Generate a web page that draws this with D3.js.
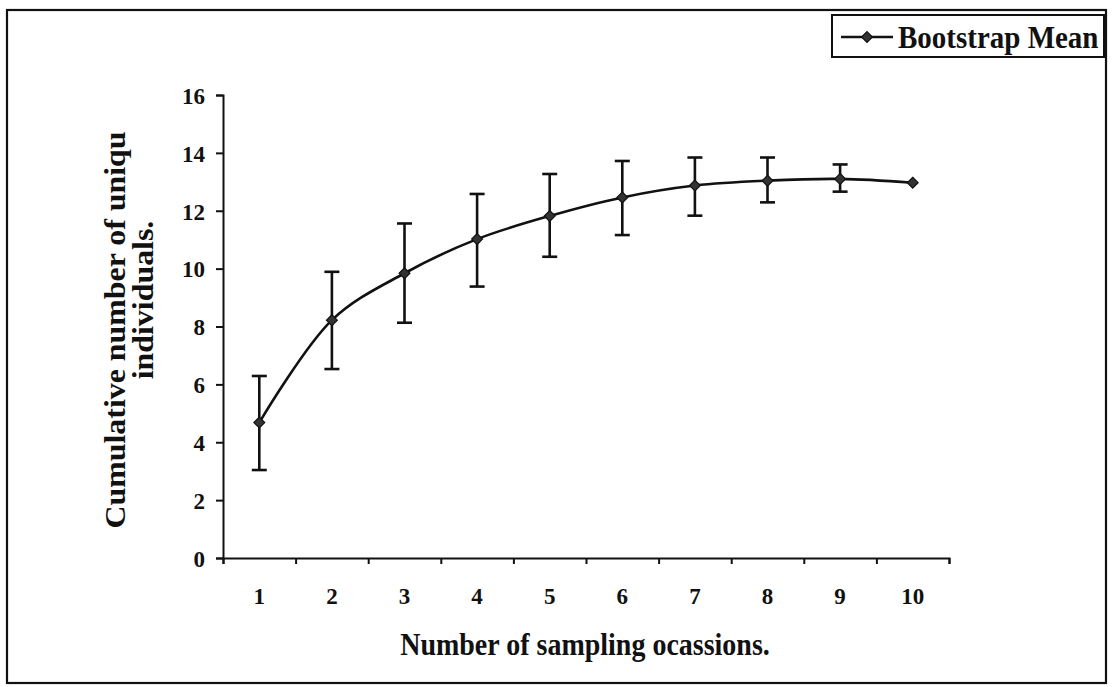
<!DOCTYPE html>
<html><head><meta charset="utf-8">
<script src="https://cdn.jsdelivr.net/npm/d3@7"></script>
<style>
body{margin:0;background:#fff;}
text{font-family:"Liberation Serif","Times New Roman",serif;font-weight:bold;fill:#111;}
</style></head>
<body><svg id="c" width="1113" height="687"></svg>
<script>
const categories = ["1","2","3","4","5","6","7","8","9","10"];
const meanValues = [4.68, 8.22, 9.84, 11.02, 11.82, 12.46, 12.87, 13.04, 13.10, 12.97];
const upperValues = [6.29, 9.89, 11.56, 12.58, 13.27, 13.72, 13.84, 13.84, 13.60, null];
const lowerValues = [3.04, 6.53, 8.13, 9.38, 10.41, 11.16, 11.83, 12.29, 12.66, null];
const yTicks = [0, 2, 4, 6, 8, 10, 12, 14, 16];
const seriesName = "Bootstrap Mean";
const xTitle = "Number of sampling ocassions.";
const yTitleLines = ["Cumulative number of uniqu", "individuals."];

const svg = d3.select("#c");
const L = 223, R = 949, T = 95, B = 558;

// outer frame
svg.append("rect").attr("x", 7).attr("y", 10).attr("width", 1099).attr("height", 673)
  .attr("fill", "none").attr("stroke", "#111").attr("stroke-width", 2.2);

const x = d3.scaleBand().domain(categories).range([L, R]).padding(0);
const xb = d3.scaleLinear().domain([0, categories.length]).range([L, R]);
const y = d3.scaleLinear().domain([0, 16]).range([B, T]);
const cx = c => x(c) + x.bandwidth() / 2;

// y axis
const yAx = svg.append("g").attr("transform", `translate(${L},0)`)
  .call(d3.axisLeft(y).tickValues(yTicks).tickSize(7).tickPadding(11).tickFormat(d3.format("d")));
yAx.select(".domain").attr("stroke", "#111").attr("stroke-width", 2);
yAx.selectAll(".tick line").attr("stroke", "#111").attr("stroke-width", 2);
yAx.selectAll(".tick text").style("font-size", "23px").attr("fill", "#111")
  .attr("dy", "0.36em");

// x axis (boundary ticks)
const xAx = svg.append("g").attr("transform", `translate(0,${B})`)
  .call(d3.axisBottom(xb).tickValues(d3.range(0, categories.length + 1)).tickSize(6).tickFormat(""));
xAx.select(".domain").attr("stroke", "#111").attr("stroke-width", 2);
xAx.selectAll(".tick line").attr("stroke", "#111").attr("stroke-width", 2);
// category labels
const xLab = svg.append("g").attr("transform", `translate(0,${B})`)
  .call(d3.axisBottom(x).tickSize(0).tickPadding(30));
xLab.select(".domain").remove();
xLab.selectAll(".tick text").style("font-size", "23px").attr("fill", "#111");

// error bars
const eb = categories.map((c, i) => ({c, hi: upperValues[i], lo: lowerValues[i]})).filter(d => d.hi != null);
const g = svg.append("g");
g.selectAll("line.eb").data(eb).join("line")
  .attr("x1", d => cx(d.c)).attr("x2", d => cx(d.c))
  .attr("y1", d => y(d.hi)).attr("y2", d => y(d.lo))
  .attr("stroke", "#111").attr("stroke-width", 2.6);
g.selectAll("line.cap1").data(eb).join("line")
  .attr("x1", d => cx(d.c) - 7.5).attr("x2", d => cx(d.c) + 7.5)
  .attr("y1", d => y(d.hi)).attr("y2", d => y(d.hi))
  .attr("stroke", "#111").attr("stroke-width", 2.6);
g.selectAll("line.cap2").data(eb).join("line")
  .attr("x1", d => cx(d.c) - 7.5).attr("x2", d => cx(d.c) + 7.5)
  .attr("y1", d => y(d.lo)).attr("y2", d => y(d.lo))
  .attr("stroke", "#111").attr("stroke-width", 2.6);

// line
const pts = categories.map((c, i) => [cx(c), y(meanValues[i])]);
svg.append("path").attr("d", d3.line().curve(d3.curveCatmullRom.alpha(0.5))(pts))
  .attr("fill", "none").attr("stroke", "#111").attr("stroke-width", 2.6);

// markers
const diamond = d3.symbol().type(d3.symbolDiamond2).size(75);
svg.selectAll("path.mk").data(pts).join("path")
  .attr("transform", d => `translate(${d[0]},${d[1]})`)
  .attr("d", diamond).attr("fill", "#333").attr("stroke", "#111").attr("stroke-width", 1.2);

// axis titles
svg.append("text").attr("transform", "translate(585,655) scale(1,1.1)")
  .attr("text-anchor", "middle").style("font-size", "28px").text(xTitle);
svg.append("text").attr("transform", "translate(125,330) rotate(-90) scale(1.1,1)")
  .attr("text-anchor", "middle").style("font-size", "29px").text(yTitleLines[0]);
svg.append("text").attr("transform", "translate(153,300) rotate(-90) scale(1.1,1)")
  .attr("text-anchor", "middle").style("font-size", "29px").text(yTitleLines[1]);

// legend
const lg = svg.append("g");
lg.append("rect").attr("x", 832).attr("y", 15).attr("width", 272).attr("height", 42)
  .attr("fill", "#fff").attr("stroke", "#111").attr("stroke-width", 2);
lg.append("line").attr("x1", 841).attr("x2", 893).attr("y1", 37).attr("y2", 37)
  .attr("stroke", "#111").attr("stroke-width", 2.6);
lg.append("path").attr("transform", "translate(867,37)").attr("d", diamond)
  .attr("fill", "#333").attr("stroke", "#111").attr("stroke-width", 1.2);
lg.append("text").attr("transform", "translate(898,48) scale(1,1.1)")
  .style("font-size", "29px").text(seriesName);
</script></body></html>
